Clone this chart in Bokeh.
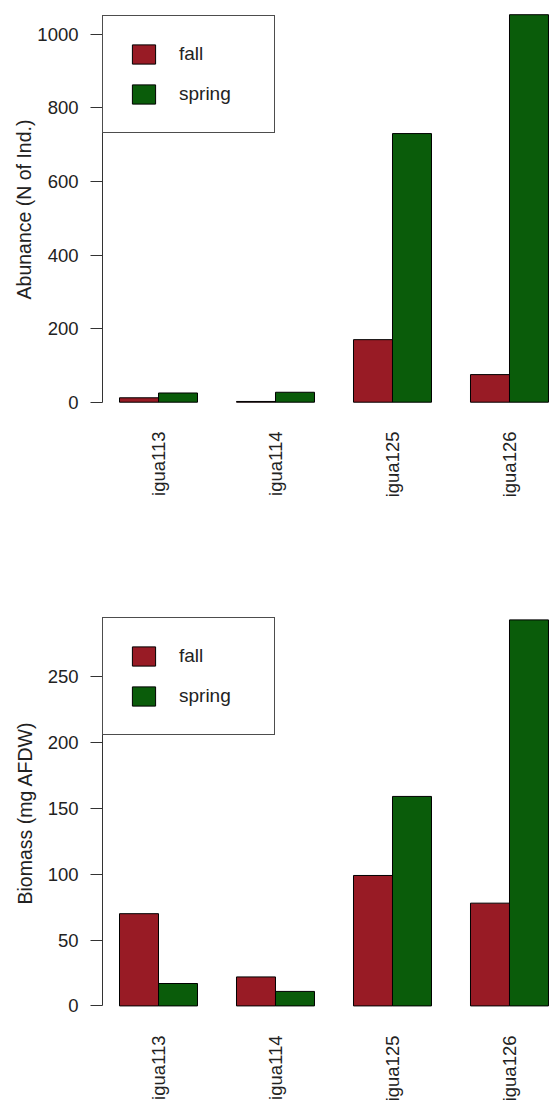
import math
from bokeh.plotting import figure
from bokeh.models import Range1d, FixedTicker, Legend, LegendItem, Title
from bokeh.layouts import column
from bokeh.embed import file_html
from bokeh.resources import INLINE

# ---- data ----
sites = ["igua113", "igua114", "igua125", "igua126"]
seasons = ["fall", "spring"]
abundance_fall = [12, 2, 170, 75]
abundance_spring = [25, 27, 730, 1053]
biomass_fall = [70, 22, 99, 78]
biomass_spring = [17, 11, 159, 293]
abundance_ticks = [0, 200, 400, 600, 800, 1000]
biomass_ticks = [0, 50, 100, 150, 200, 250]
abundance_label = "Abunance (N of Ind.)"
biomass_label = "Biomass (mg AFDW)"

FONT = "Liberation Sans"
FS = "18.5px"
FS_TITLE = "19.5px"
FS_LEG = "19px"
TXT = "#222222"
COLORS = ["#981b25", "#0a5c0a"]


def make_chart(fall, spring, ticks, ylabel, height, b_top, b_bottom,
               y_start, y_end, title_valign, title_standoff, legend_vy):
    n = len(sites)
    x_fall = [1.5 + 3 * i for i in range(n)]
    x_spring = [2.5 + 3 * i for i in range(n)]
    centers = [2 + 3 * i for i in range(n)]

    p = figure(width=549, height=height, output_backend="svg",
               toolbar_location=None,
               x_range=Range1d(0.564, 12.026), y_range=Range1d(y_start, y_end),
               min_border_left=102, min_border_right=0,
               min_border_top=b_top, min_border_bottom=b_bottom,
               outline_line_color=None)
    p.grid.visible = False

    r1 = p.vbar(x=x_fall, top=fall, bottom=0, width=1,
                fill_color=COLORS[0], line_color="black", line_width=1)
    r2 = p.vbar(x=x_spring, top=spring, bottom=0, width=1,
                fill_color=COLORS[1], line_color="black", line_width=1)

    # x axis: rotated site names, no line, no ticks
    xa = p.xaxis[0]
    xa.ticker = FixedTicker(ticks=centers)
    xa.major_label_overrides = {c: s for c, s in zip(centers, sites)}
    xa.major_label_orientation = math.pi / 2
    xa.axis_line_color = None
    xa.major_tick_line_color = None
    xa.minor_tick_line_color = None
    xa.major_tick_out = 0
    xa.major_tick_in = 0
    xa.major_label_standoff = 14
    xa.major_label_text_font = FONT
    xa.major_label_text_font_size = FS
    xa.major_label_text_color = TXT

    # y axis
    ya = p.yaxis[0]
    ya.ticker = FixedTicker(ticks=ticks)
    ya.bounds = (ticks[0], ticks[-1])
    ya.axis_line_color = "#333333"
    ya.major_tick_line_color = "#333333"
    ya.major_tick_out = 12
    ya.major_tick_in = 0
    ya.minor_tick_line_color = None
    ya.major_label_standoff = 12
    ya.major_label_text_font = FONT
    ya.major_label_text_font_size = FS
    ya.major_label_text_color = TXT

    p.add_layout(Title(text=ylabel, align="center", vertical_align=title_valign,
                       standoff=title_standoff, text_font=FONT,
                       text_font_size=FS_TITLE, text_font_style="normal",
                       text_color=TXT), "left")

    legend = Legend(items=[LegendItem(label=seasons[0], renderers=[r1]),
                           LegendItem(label=seasons[1], renderers=[r2])],
                    location=(0, legend_vy), padding=26, spacing=16,
                    glyph_width=29, glyph_height=24, label_height=24,
                    label_width=69, label_standoff=21, margin=0,
                    label_text_font=FONT, label_text_font_size=FS_LEG,
                    label_text_color=TXT,
                    border_line_color="#4d4d4d", border_line_width=1,
                    border_line_alpha=1,
                    background_fill_color="white", background_fill_alpha=1)
    p.add_layout(legend)
    return p


p1 = make_chart(abundance_fall, abundance_spring, abundance_ticks,
                abundance_label, 552, 1, 135, -41.58, 1088.9, "bottom", 0, 284)
p2 = make_chart(biomass_fall, biomass_spring, biomass_ticks,
                biomass_label, 552, 52, 80, -11.83, 304.67, "top", 13, 286)

layout = column(p1, p2, spacing=0)
open("out.html", "w").write(file_html(layout, INLINE))
